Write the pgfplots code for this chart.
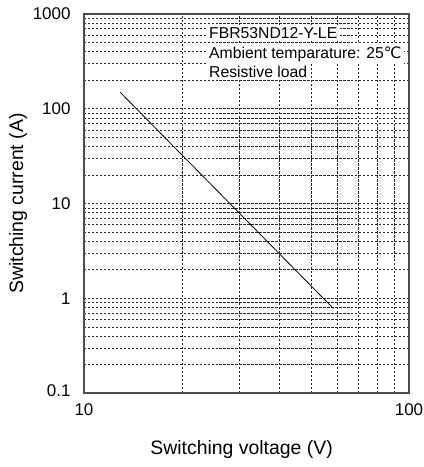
\documentclass[border=0pt]{standalone}
\usepackage{pgfplots}
\pgfplotsset{compat=1.18}
\usepackage{fontspec}
\setmainfont{Liberation Sans}
\newfontfamily\dejavu{DejaVu Sans}
\newcommand{\tl}{\fontsize{17}{20}\selectfont}
\newcommand{\bt}{\fontsize{15.8}{18}\selectfont}
\begin{document}
\begin{tikzpicture}
\begin{axis}[
  name=ax,
  scale only axis,
  width=325bp, height=379bp,
  xmode=log, ymode=log,
  xmin=10, xmax=100, ymin=0.1, ymax=1000,
  xtick={10,100}, xticklabels={{\tl 10},{\tl 100}},
  ytick={0.1,1,10,100,1000}, yticklabels={{\tl\raisebox{5bp}{0.1}},{\tl 1},{\tl 10},{\tl 100},{\tl 1000}},
  major tick length=0pt, minor tick length=0pt,
  grid=both,
  major grid style={black!85, line width=0.5pt, dash pattern=on 2.5pt off 1.5pt},
  minor grid style={black!85, line width=0.5pt, dash pattern=on 2.5pt off 1.5pt},
  axis line style={black!70, line width=1.3pt},
  xticklabel style={yshift=-7bp},
  yticklabel style={xshift=-10bp},
  xlabel={Switching voltage (V)},
  ylabel={Switching current (A)},
  xlabel style={font=\fontsize{19.5}{23}\selectfont, at={(axis description cs:0.485,-0.150)}, anchor=center},
  ylabel style={font=\fontsize{19.5}{23}\selectfont, at={(axis description cs:-0.203,0.5)}, anchor=center, rotate=0},
  clip=false,
]
\addplot[black, line width=0.8pt] coordinates {(12.9,150) (58.5,0.78)};
\node[fill=white, anchor=west, inner sep=2.5bp]
  at (rel axis cs:0.377,0.950) {\bt FBR53ND12-Y-LE};
\node[fill=white, anchor=west, inner sep=2.5bp]
  at (rel axis cs:0.377,0.894) {\bt Ambient temparature: 25{\dejavu ℃}};
\node[fill=white, anchor=west, inner sep=2.5bp]
  at (rel axis cs:0.377,0.847) {\bt Resistive load};
\end{axis}
\pgfresetboundingbox
\path ([xshift=-84bp,yshift=-74bp]ax.south west) rectangle ([xshift=15bp,yshift=14bp]ax.north east);
\end{tikzpicture}
\end{document}
